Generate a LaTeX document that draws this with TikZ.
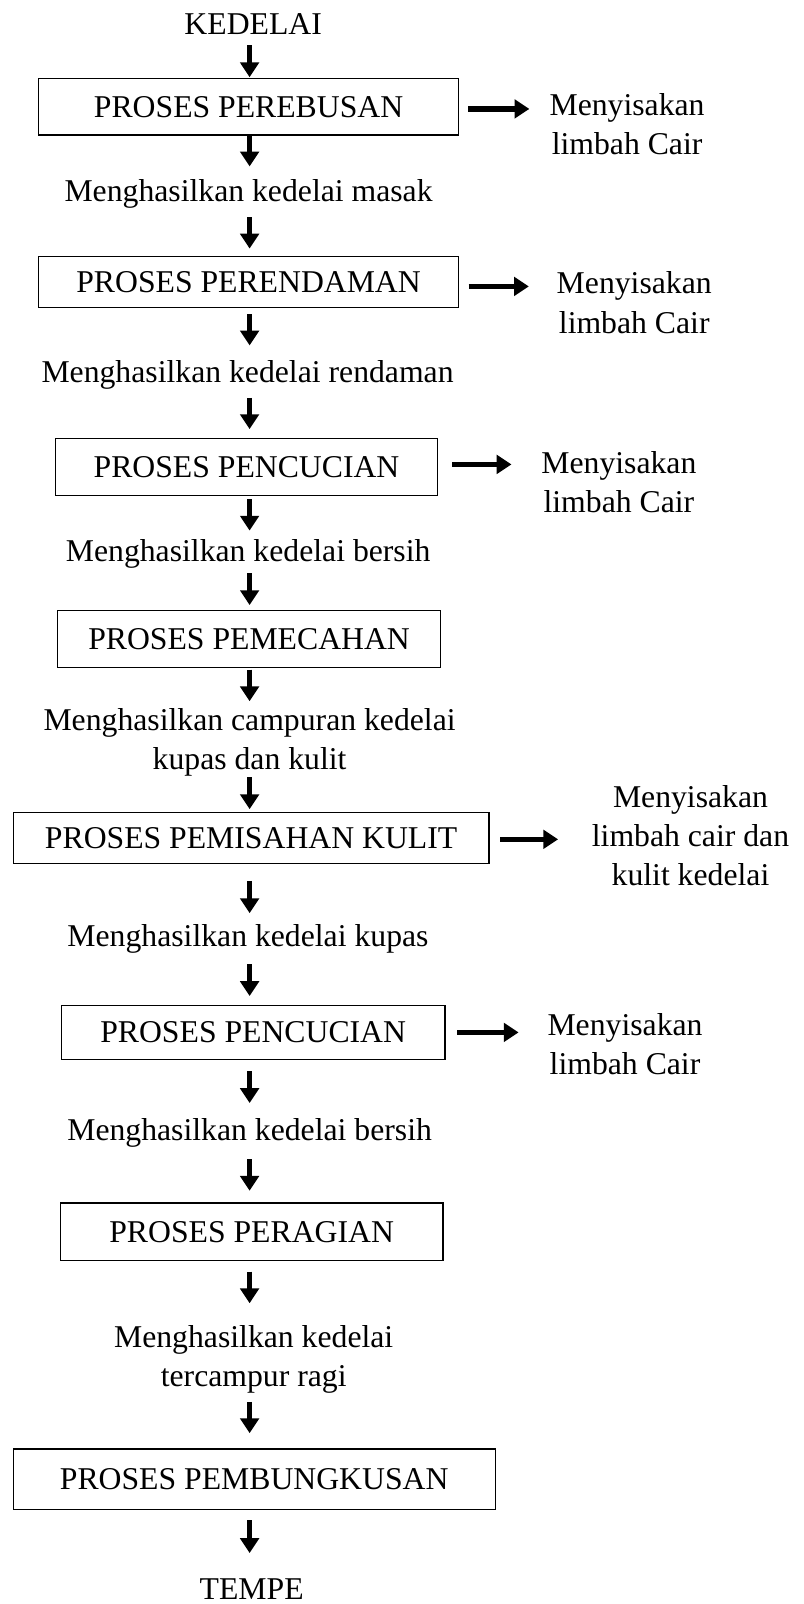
\documentclass[tikz,border=0pt]{standalone}
\usepackage{fontspec}
\setmainfont{Liberation Serif}
\usetikzlibrary{arrows.meta}
\begin{document}
\begin{tikzpicture}[x=1pt,y=-1pt,
  txt/.style={font=\fontsize{31}{38.5}\selectfont, inner sep=0pt, outer sep=0pt},
  procbox/.style={txt, draw, line width=1.1pt},
  arr/.style={line width=5.5pt, -{Triangle[width=18pt,length=14.5pt]}}]
\useasboundingbox (0,0) rectangle (785,1568);
\coordinate (ax) at (244,0);
\node[txt, anchor=base] (k) at (247.5,34) {KEDELAI};
\node[procbox, minimum width=410pt, minimum height=55pt] (b1) at (243,104.5) {PROSES PEREBUSAN};
\node[txt, anchor=north, align=center] (s1) at (613,91.3) {Menyisakan\\limbah Cair};
\node[txt, anchor=base] (t1) at (243,197) {Menghasilkan kedelai masak};
\node[procbox, minimum width=410pt, minimum height=50pt] (b2) at (243,276) {PROSES PERENDAMAN};
\node[txt, anchor=north, align=center] (s2) at (620,265.8) {Menyisakan\\limbah Cair};
\node[txt, anchor=base] (t2) at (242,374) {Menghasilkan kedelai rendaman};
\node[procbox, minimum width=374pt, minimum height=55.5pt] (b3) at (241,456.75) {PROSES PENCUCIAN};
\node[txt, anchor=north, align=center] (s3) at (605,441.4) {Menyisakan\\limbah Cair};
\node[txt, anchor=base] (t3) at (242.6,549) {Menghasilkan kedelai bersih};
\node[procbox, minimum width=375pt, minimum height=55.5pt] (b4) at (243.5,624.75) {PROSES PEMECAHAN};
\node[txt, anchor=north, align=center] (t4) at (244,692.5) {Menghasilkan campuran kedelai\\kupas dan kulit};
\node[procbox, minimum width=465pt, minimum height=50pt] (b5) at (245.5,819) {PROSES PEMISAHAN KULIT};
\node[txt, anchor=north, align=center] (s4) at (675,767.4) {Menyisakan\\limbah cair dan\\kulit kedelai};
\node[txt, anchor=base] (t5) at (242.4,925.5) {Menghasilkan kedelai kupas};
\node[procbox, minimum width=375pt, minimum height=53.5pt] (b6) at (247.5,1009.25) {PROSES PENCUCIAN};
\node[txt, anchor=north, align=center] (s5) at (611,990.8) {Menyisakan\\limbah Cair};
\node[txt, anchor=base] (t6) at (244,1114.5) {Menghasilkan kedelai bersih};
\node[procbox, minimum width=374pt, minimum height=56pt] (b7) at (246,1204) {PROSES PERAGIAN};
\node[txt, anchor=north, align=center] (t7) at (248,1295.3) {Menghasilkan kedelai\\tercampur ragi};
\node[procbox, minimum width=471pt, minimum height=59.5pt] (b8) at (248.5,1446.25) {PROSES PEMBUNGKUSAN};
\node[txt, anchor=base] (tm) at (246,1564) {TEMPE};
% vertical arrows
\draw[arr, shorten <=10pt, shorten >=1.5pt] (k.south -| ax) -- (ax |- b1.north);
\draw[arr, shorten <=1pt, shorten >=12.8pt] (b1.south -| ax) -- (ax |- t1.north);
\draw[arr, shorten <=8.8pt, shorten >=8pt] (t1.south -| ax) -- (ax |- b2.north);
\draw[arr, shorten <=6pt, shorten >=14.8pt] (b2.south -| ax) -- (ax |- t2.north);
\draw[arr, shorten <=8.3pt, shorten >=9.5pt] (t2.south -| ax) -- (ax |- b3.north);
\draw[arr, shorten <=3.5pt, shorten >=8.8pt] (b3.south -| ax) -- (ax |- t3.north);
\draw[arr, shorten <=4.8pt, shorten >=5.5pt] (t3.south -| ax) -- (ax |- b4.north);
\draw[arr, shorten <=2pt, shorten >=7pt] (b4.south -| ax) -- (ax |- t4.north);
\draw[arr, shorten <=0.5pt, shorten >=3pt] (t4.south -| ax) -- (ax |- b5.north);
\draw[arr, shorten <=17pt, shorten >=11.3pt] (b5.south -| ax) -- (ax |- t5.north);
\draw[arr, shorten <=10.5pt, shorten >=8.8pt] (t5.south -| ax) -- (ax |- b6.north);
\draw[arr, shorten <=11pt, shorten >=14.7pt] (b6.south -| ax) -- (ax |- t6.north);
\draw[arr, shorten <=12.2pt, shorten >=12pt] (t6.south -| ax) -- (ax |- b7.north);
\draw[arr, shorten <=11pt, shorten >=21.3pt] (b7.south -| ax) -- (ax |- t7.north);
\draw[arr, shorten <=8.3pt, shorten >=15.5pt] (t7.south -| ax) -- (ax |- b8.north);
\draw[arr, shorten <=10pt, shorten >=25.5pt] (b8.south -| ax) -- (ax |- tm.north);
% side arrows
\draw[arr, shorten <=9.5pt, shorten >=19.75pt] ([yshift=-2pt]b1.east) -- ([yshift=-2pt]b1.east -| s1.west);
\draw[arr, shorten <=10pt, shorten >=27.25pt] ([yshift=-4pt]b2.east) -- ([yshift=-4pt]b2.east -| s2.west);
\draw[arr, shorten <=14pt, shorten >=29.25pt] ([yshift=2.75pt]b3.east) -- ([yshift=2.75pt]b3.east -| s3.west);
\draw[arr, shorten <=11pt, shorten >=33pt] ([yshift=-1.5pt]b5.east) -- ([yshift=-1.5pt]b5.east -| s4.west);
\draw[arr, shorten <=12pt, shorten >=28.25pt] (b6.east) -- (b6.east -| s5.west);
\end{tikzpicture}
\end{document}
